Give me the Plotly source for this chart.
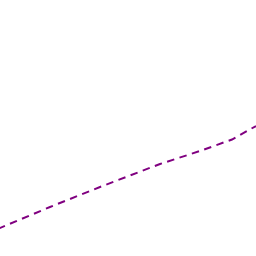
import plotly.graph_objects as go

x_vals = [-2, 50, 100, 160, 200, 232, 256]
y_vals = [27.2, 49, 69, 92, 105, 116.5, 130]

fig = go.Figure()
fig.add_trace(go.Scatter(
    x=x_vals, y=y_vals, mode="lines",
    line=dict(color="#800080", width=2, dash="7.5px,5.5px"),
    hoverinfo="skip", showlegend=False,
))
fig.update_layout(
    width=256, height=256,
    margin=dict(l=0, r=0, t=0, b=0),
    paper_bgcolor="white", plot_bgcolor="white",
    xaxis=dict(range=[0, 256], visible=False, fixedrange=True),
    yaxis=dict(range=[0, 256], visible=False, fixedrange=True),
)
fig.write_html("out.html", config={"displayModeBar": False})
